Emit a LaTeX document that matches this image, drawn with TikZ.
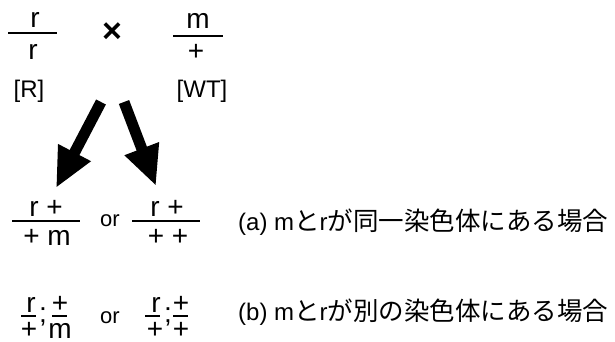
\documentclass[tikz,border=0pt]{standalone}
\usepackage{fontspec}
\setmainfont{Liberation Sans}
\newfontfamily\jp{Noto Sans CJK JP}
\usetikzlibrary{arrows.meta}
\tikzset{
  big/.style={font=\fontsize{28}{30}\selectfont, inner sep=0pt},
  lab/.style={font=\fontsize{24}{26}\selectfont, inner sep=0pt},
  ortxt/.style={font=\fontsize{22}{24}\selectfont, inner sep=0pt},
  desc/.style={font=\fontsize{24}{26}\selectfont, inner sep=0pt, anchor=west},
  bar/.style={line width=2pt},
  fatarrow/.style={line width=11pt, -{Triangle[width=34pt,length=40pt]}},
}
\newcommand{\J}[1]{{\jp\fontsize{25.5}{28}\selectfont #1}}
\begin{document}
\begin{tikzpicture}[x=1pt,y=-1pt]
\useasboundingbox (0,0) rectangle (615,342);
% parents
\node[big, anchor=base] (p1n) at (35,28) {r};
\node[big, anchor=base] (p1d) at (33,60) {r};
\coordinate (p1l) at (8,33); \coordinate (p1r) at (57,33);
\draw[bar] (p1l) -- (p1r);
\node[font=\fontsize{34}{36}\selectfont\bfseries, inner sep=0pt] (x) at (112,33) {×};
\node[big, anchor=base] (p2n) at (198,29) {m};
\node[big, anchor=base] (p2d) at (196,61) {+};
\coordinate (p2l) at (173,36); \coordinate (p2r) at (223,36);
\draw[bar] (p2l) -- (p2r);
\node[lab] (R) at (29,91) {[R]};
\node[lab] (WT) at (202,91) {[WT]};
% arrows
\coordinate (a1s) at (101,102); \coordinate (a1e) at (56,188);
\coordinate (a2s) at (124,102); \coordinate (a2e) at (156,186);
\draw[fatarrow] (a1s) -- (a1e);
\draw[fatarrow] (a2s) -- (a2e);
% row (a)
\node[big, anchor=base] (a1n) at (46,216) {r +};
\node[big, anchor=base] (a1d) at (47,245) {+ m};
\coordinate (a1l) at (12,221); \coordinate (a1r) at (80,221);
\draw[bar] (a1l) -- (a1r);
\node[ortxt] (ora) at (110,221) {or};
\node[big, anchor=base] (a2n) at (167,216) {r +};
\node[big, anchor=base] (a2d) at (168,245) {+ +};
\coordinate (a2l) at (132,221); \coordinate (a2r) at (200,221);
\draw[bar] (a2l) -- (a2r);
\node[desc] (ta) at (238,222) {(a) m\J{と}r\J{が同一染色体にある場合}};
% row (b)
\node[big, anchor=base] (b1n1) at (31,312) {r};
\node[big, anchor=base] (b1s) at (43,322) {;};
\node[big, anchor=base] (b1n2) at (60,312) {+};
\node[big, anchor=base] (b1d1) at (29,338) {+};
\node[big, anchor=base] (b1d2) at (60,338) {m};
\coordinate (b1a) at (21,316); \coordinate (b1b) at (36,316);
\coordinate (b1c) at (52,316); \coordinate (b1d) at (67,316);
\draw[bar] (b1a) -- (b1b);
\draw[bar] (b1c) -- (b1d);
\node[ortxt] (orb) at (110,318) {or};
\node[big, anchor=base] (b2n1) at (156,312) {r};
\node[big, anchor=base] (b2s) at (168,322) {;};
\node[big, anchor=base] (b2n2) at (181,312) {+};
\node[big, anchor=base] (b2d1) at (155,338) {+};
\node[big, anchor=base] (b2d2) at (181,338) {+};
\coordinate (b2a) at (145,316); \coordinate (b2b) at (160,316);
\coordinate (b2c) at (173,316); \coordinate (b2d) at (188,316);
\draw[bar] (b2a) -- (b2b);
\draw[bar] (b2c) -- (b2d);
\node[desc] (tb) at (238,312) {(b) m\J{と}r\J{が別の染色体にある場合}};
\end{tikzpicture}
\end{document}
